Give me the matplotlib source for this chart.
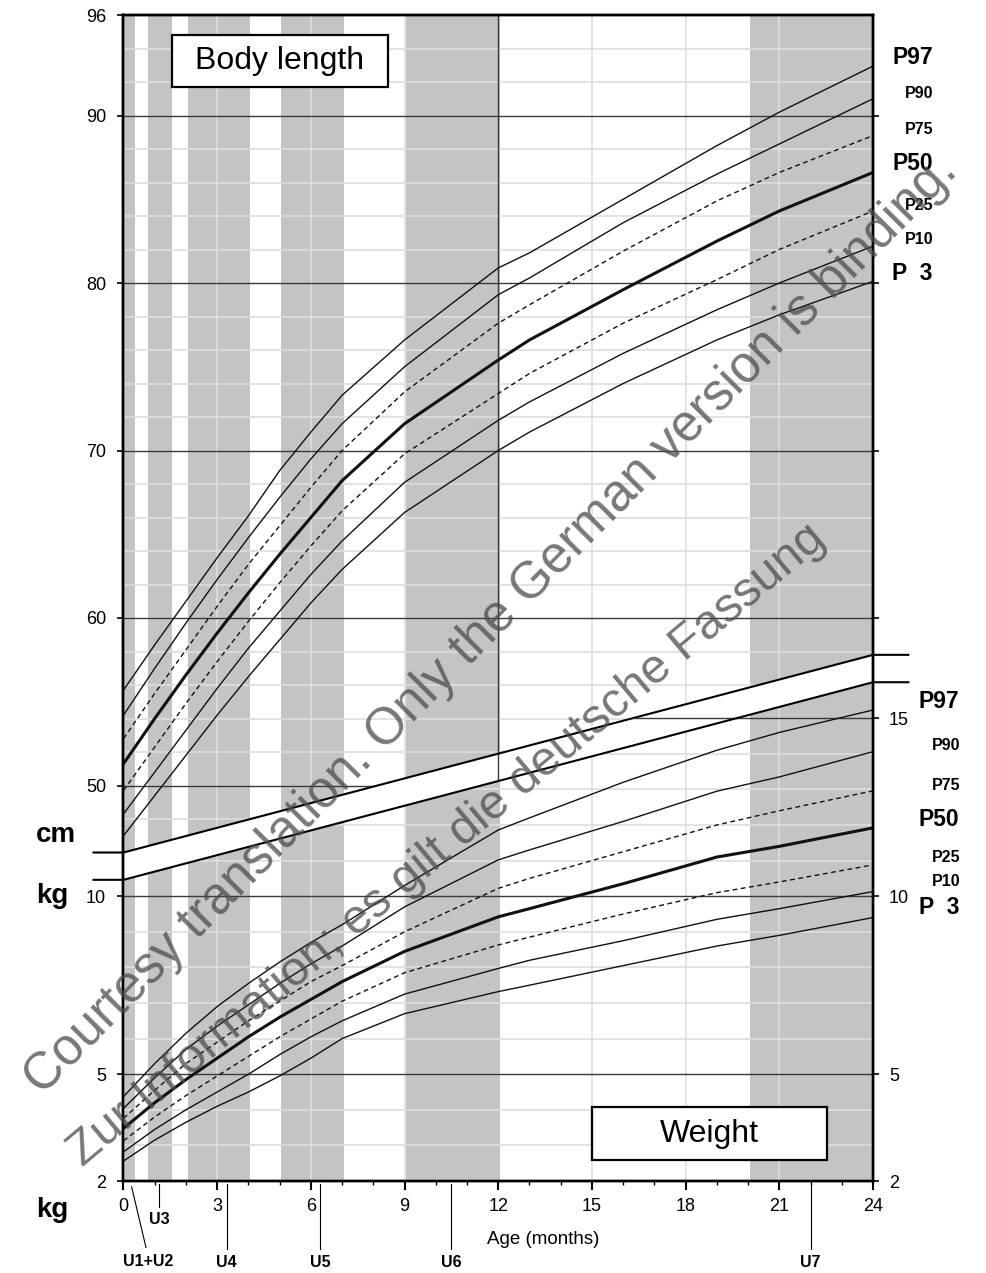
import matplotlib.pyplot as plt
import matplotlib.transforms as mtransforms
from matplotlib.patches import Polygon, Rectangle

plt.rcParams['font.family'] = ['Liberation Sans', 'DejaVu Sans']

# Data (boys, 0-24 months)
months = [0, 1, 2, 3, 4, 5, 6, 7, 9, 12, 13, 16, 19, 21, 24]

len_p97 = [55.7, 58.4, 61.0, 63.6, 66.1, 68.8, 71.1, 73.3, 76.6, 80.9, 81.8, 85.0, 88.2, 90.2, 92.95]
len_p90 = [54.2, 57.0, 59.7, 62.3, 64.8, 67.2, 69.5, 71.6, 75.0, 79.3, 80.3, 83.6, 86.5, 88.3, 91.0]
len_p75 = [52.8, 55.5, 58.1, 60.7, 63.2, 65.5, 67.8, 70.0, 73.5, 77.6, 78.7, 81.9, 84.9, 86.6, 88.8]
len_p50 = [51.3, 54.0, 56.6, 59.1, 61.5, 63.8, 66.0, 68.2, 71.6, 75.4, 76.6, 79.6, 82.5, 84.3, 86.6]
len_p25 = [49.7, 52.3, 54.9, 57.4, 59.8, 62.1, 64.3, 66.4, 69.8, 73.4, 74.6, 77.6, 80.2, 82.0, 84.3]
len_p10 = [48.3, 50.8, 53.3, 55.8, 58.2, 60.4, 62.6, 64.6, 68.1, 71.8, 72.9, 75.8, 78.4, 80.0, 82.2]
len_p3 = [47.0, 49.4, 51.8, 54.2, 56.5, 58.7, 60.9, 62.9, 66.3, 70.0, 71.1, 74.0, 76.6, 78.1, 80.1]

wt_p97 = [4.37, 5.3, 6.15, 6.9, 7.55, 8.15, 8.7, 9.2, 10.3, 11.86, 12.2, 13.2, 14.1, 14.6, 15.23]
wt_p90 = [4.04, 4.9, 5.7, 6.35, 6.95, 7.55, 8.1, 8.6, 9.7, 11.02, 11.3, 12.1, 12.95, 13.35, 14.06]
wt_p75 = [3.76, 4.55, 5.3, 5.9, 6.5, 7.05, 7.6, 8.05, 9.0, 10.22, 10.5, 11.25, 12.0, 12.4, 12.96]
wt_p50 = [3.48, 4.2, 4.85, 5.45, 6.05, 6.6, 7.1, 7.6, 8.45, 9.42, 9.65, 10.35, 11.1, 11.4, 11.92]
wt_p25 = [3.13, 3.8, 4.4, 4.95, 5.5, 6.05, 6.55, 7.05, 7.85, 8.63, 8.85, 9.5, 10.1, 10.4, 10.88]
wt_p10 = [2.82, 3.45, 4.0, 4.5, 5.0, 5.55, 6.05, 6.5, 7.25, 7.97, 8.2, 8.75, 9.35, 9.65, 10.13]
wt_p3 = [2.56, 3.15, 3.65, 4.1, 4.5, 4.95, 5.45, 6.0, 6.7, 7.32, 7.5, 8.05, 8.6, 8.9, 9.40]

perc_labels = ['P97', 'P90', 'P75', 'P50', 'P25', 'P10', 'P  3']

# check-up windows (months) and check-up marks
u_bands = [(0, 0.37), (0.8, 1.55), (2.05, 4.05), (5.05, 7.05), (9.05, 12.05), (20.05, 24)]
u_names = ['U3', 'U4', 'U5', 'U6', 'U7']
u_months = [1.13, 3.3, 6.3, 10.5, 22.0]

# axis break: upper edge in cm, lower edge in kg (at 0 and 24 months)
break_cm = (46.0, 57.8)
break_kg = (10.46, 16.01)
break_top_kg = (11.22, 16.78)

GRAY = '#c3c4c6'
LIGHT = '#dedede'
DARK = '#3a3a3a'

fig = plt.figure(figsize=(9.87, 12.73), dpi=100)
W, H = 987, 1273


def fpos(x, y):
    return x / W, 1 - y / H


ax = fig.add_axes([123.5 / W, 92 / H, 749.5 / W, 1166 / H])
ax.set_xlim(0, 24)
ax.set_ylim(96 - 1166 / 16.75, 96)
axw = ax.twinx()
axw.set_ylim(2, 2 + 1166 / 35.6)

clip_len = Polygon([(0, break_cm[0]), (24, break_cm[1]), (24, 96), (0, 96)],
                   closed=True, transform=ax.transData)
clip_wt = Polygon([(0, 2), (24, 2), (24, break_kg[1]), (0, break_kg[0])],
                  closed=True, transform=axw.transData)
clip_wt_lines = Polygon([(0, 2), (24, 2), (24, break_top_kg[1]), (0, break_top_kg[0])],
                        closed=True, transform=axw.transData)

for a, clip in [(ax, clip_len), (axw, clip_wt)]:
    for x0, x1 in u_bands:
        sp = a.axvspan(x0, x1, color=GRAY, lw=0, zorder=0)
        sp.set_clip_path(clip)
    for m in [3, 6, 9, 15, 18, 21]:
        ln = a.axvline(m, color=LIGHT, lw=1.2, zorder=1)
        ln.set_clip_path(clip)

for v in range(46, 96, 2):
    if v % 10:
        ln = ax.axhline(v, color=LIGHT, lw=1.2, zorder=1)
        ln.set_clip_path(clip_len)
for v in [50, 60, 70, 80, 90]:
    ln = ax.axhline(v, color=DARK, lw=1.0, zorder=2)
    ln.set_clip_path(clip_len)
for v in range(3, 18):
    if v % 5:
        ln = axw.axhline(v, color=LIGHT, lw=1.2, zorder=1)
        ln.set_clip_path(clip_wt)
for v in [5, 10, 15]:
    ln = axw.axhline(v, color=DARK, lw=1.0, zorder=2)
    ln.set_clip_path(clip_wt_lines)

ax.axvline(12, color=DARK, lw=1.0, zorder=2)

styles = [('-', 1.0), ('-', 1.0), ('--', 1.0), ('-', 2.2), ('--', 1.0), ('-', 1.0), ('-', 1.0)]
for vals, (ls, lw) in zip([len_p97, len_p90, len_p75, len_p50, len_p25, len_p10, len_p3], styles):
    l, = ax.plot(months, vals, ls=ls, lw=lw, color='#111111', zorder=3)
    if ls == '--':
        l.set_dashes((3.5, 2.5))
for vals, (ls, lw) in zip([wt_p97, wt_p90, wt_p75, wt_p50, wt_p25, wt_p10, wt_p3], styles):
    l, = axw.plot(months, vals, ls=ls, lw=lw, color='#111111', zorder=3)
    if ls == '--':
        l.set_dashes((3.5, 2.5))

# break lines, extended outside the plot
ax.plot([-0.96, 0, 24, 25.13], [break_cm[0], break_cm[0], break_cm[1], break_cm[1]],
        color='black', lw=1.5, clip_on=False, zorder=4)
axw.plot([-0.96, 0, 24, 25.13], [break_kg[0], break_kg[0], break_kg[1], break_kg[1]],
         color='black', lw=1.5, clip_on=False, zorder=4)

# ticks
ax.set_yticks([50, 60, 70, 80, 90, 96])
ax.tick_params(axis='y', left=True, right=False, length=4.5, width=1.2, labelsize=13, pad=8)
axw.set_yticks([2, 5, 10, 15])
axw.tick_params(axis='y', length=4.5, width=1.2, labelsize=13, pad=7)

axwl = ax.twinx()
axwl.set_ylim(axw.get_ylim())
axwl.yaxis.tick_left()
axwl.set_yticks([2, 5, 10])
axwl.tick_params(axis='y', length=4.5, width=1.2, labelsize=13, pad=8)

axlr = ax.twinx()
axlr.set_ylim(ax.get_ylim())
axlr.set_yticks([60, 70, 80, 90])
axlr.tick_params(axis='y', length=4.5, width=1.2, labelright=False)

ax.set_xticks(range(0, 25, 3))
ax.set_xticks(range(25), minor=True)
ax.tick_params(axis='x', which='major', length=6.5, width=1.5, labelsize=13, pad=6)
ax.tick_params(axis='x', which='minor', length=3, width=1.0)

for a in [ax, axw, axwl, axlr]:
    for s in a.spines.values():
        s.set_linewidth(1.6)
        s.set_color('black')

# check-up marks under the axis
trans = mtransforms.blended_transform_factory(ax.transData, ax.transAxes)
ax.plot([0.26, 0.72], [-0.005, -0.057], color='black', lw=0.8, clip_on=False, transform=trans)
ax.text(0.78, -0.0693, 'U1+U2', transform=trans, ha='center', va='center',
        fontsize=11.5, fontweight='bold')
for name, m in zip(u_names, u_months):
    if name == 'U3':
        ax.plot([m, m], [-0.003, -0.022], color='black', lw=0.8, clip_on=False, transform=trans)
        ax.text(m + 0.03, -0.0334, name, transform=trans, ha='center', va='center',
                fontsize=11.5, fontweight='bold')
    else:
        ax.plot([m, m], [-0.003, -0.058], color='black', lw=0.8, clip_on=False, transform=trans)
        ax.text(m, -0.0696, name, transform=trans, ha='center', va='center',
                fontsize=11.5, fontweight='bold')

fig.text(*fpos(543, 1240), 'Age (months)', ha='center', va='center', fontsize=13.5)

# boxes
ax.add_patch(Rectangle((0.0647, 0.9383), 0.2882, 0.0445, transform=ax.transAxes,
                       fc='white', ec='black', lw=1.6, zorder=5))
ax.text(0.2088, 0.9606, 'Body length', transform=ax.transAxes, ha='center', va='center',
        fontsize=23, zorder=6)
axw.add_patch(Rectangle((0.6251, 0.018), 0.3135, 0.0455, transform=axw.transAxes,
                        fc='white', ec='black', lw=1.6, zorder=5))
axw.text(0.7819, 0.0407, 'Weight', transform=axw.transAxes, ha='center', va='center',
         fontsize=23, zorder=6)

# unit labels
fig.text(*fpos(56, 835), 'cm', ha='center', va='center', fontsize=20, fontweight='bold')
fig.text(*fpos(52, 896), 'kg', ha='center', va='center', fontsize=20, fontweight='bold')
fig.text(*fpos(52, 1210), 'kg', ha='center', va='center', fontsize=20, fontweight='bold')

# percentile labels
big = {'P97', 'P50', 'P  3'}
len_lab_y = [58, 93, 130, 163, 205, 239, 274]
wt_lab_y = [702, 745, 786, 819, 857, 882, 907]
for lab, yl, yw in zip(perc_labels, len_lab_y, wt_lab_y):
    if lab in big:
        fig.text(*fpos(892, yl), lab, ha='left', va='center', fontsize=16.5, fontweight='bold')
        fig.text(*fpos(919, yw), lab, ha='left', va='center', fontsize=16.5, fontweight='bold')
    else:
        fig.text(*fpos(905, yl), lab, ha='left', va='center', fontsize=11.5, fontweight='bold')
        fig.text(*fpos(932, yw), lab, ha='left', va='center', fontsize=11.5, fontweight='bold')

# watermark
fig.text(*fpos(491, 625), 'Courtesy translation. Only the German version is binding.',
         ha='center', va='center', rotation=45.2, rotation_mode='anchor',
         fontsize=37, color='#4a4a4a', alpha=0.75, zorder=10)
fig.text(*fpos(447, 845), 'Zur Information; es gilt die deutsche Fassung',
         ha='center', va='center', rotation=40, rotation_mode='anchor',
         fontsize=35, color='#4a4a4a', alpha=0.75, zorder=10)

fig.savefig('out.png', dpi=100)
